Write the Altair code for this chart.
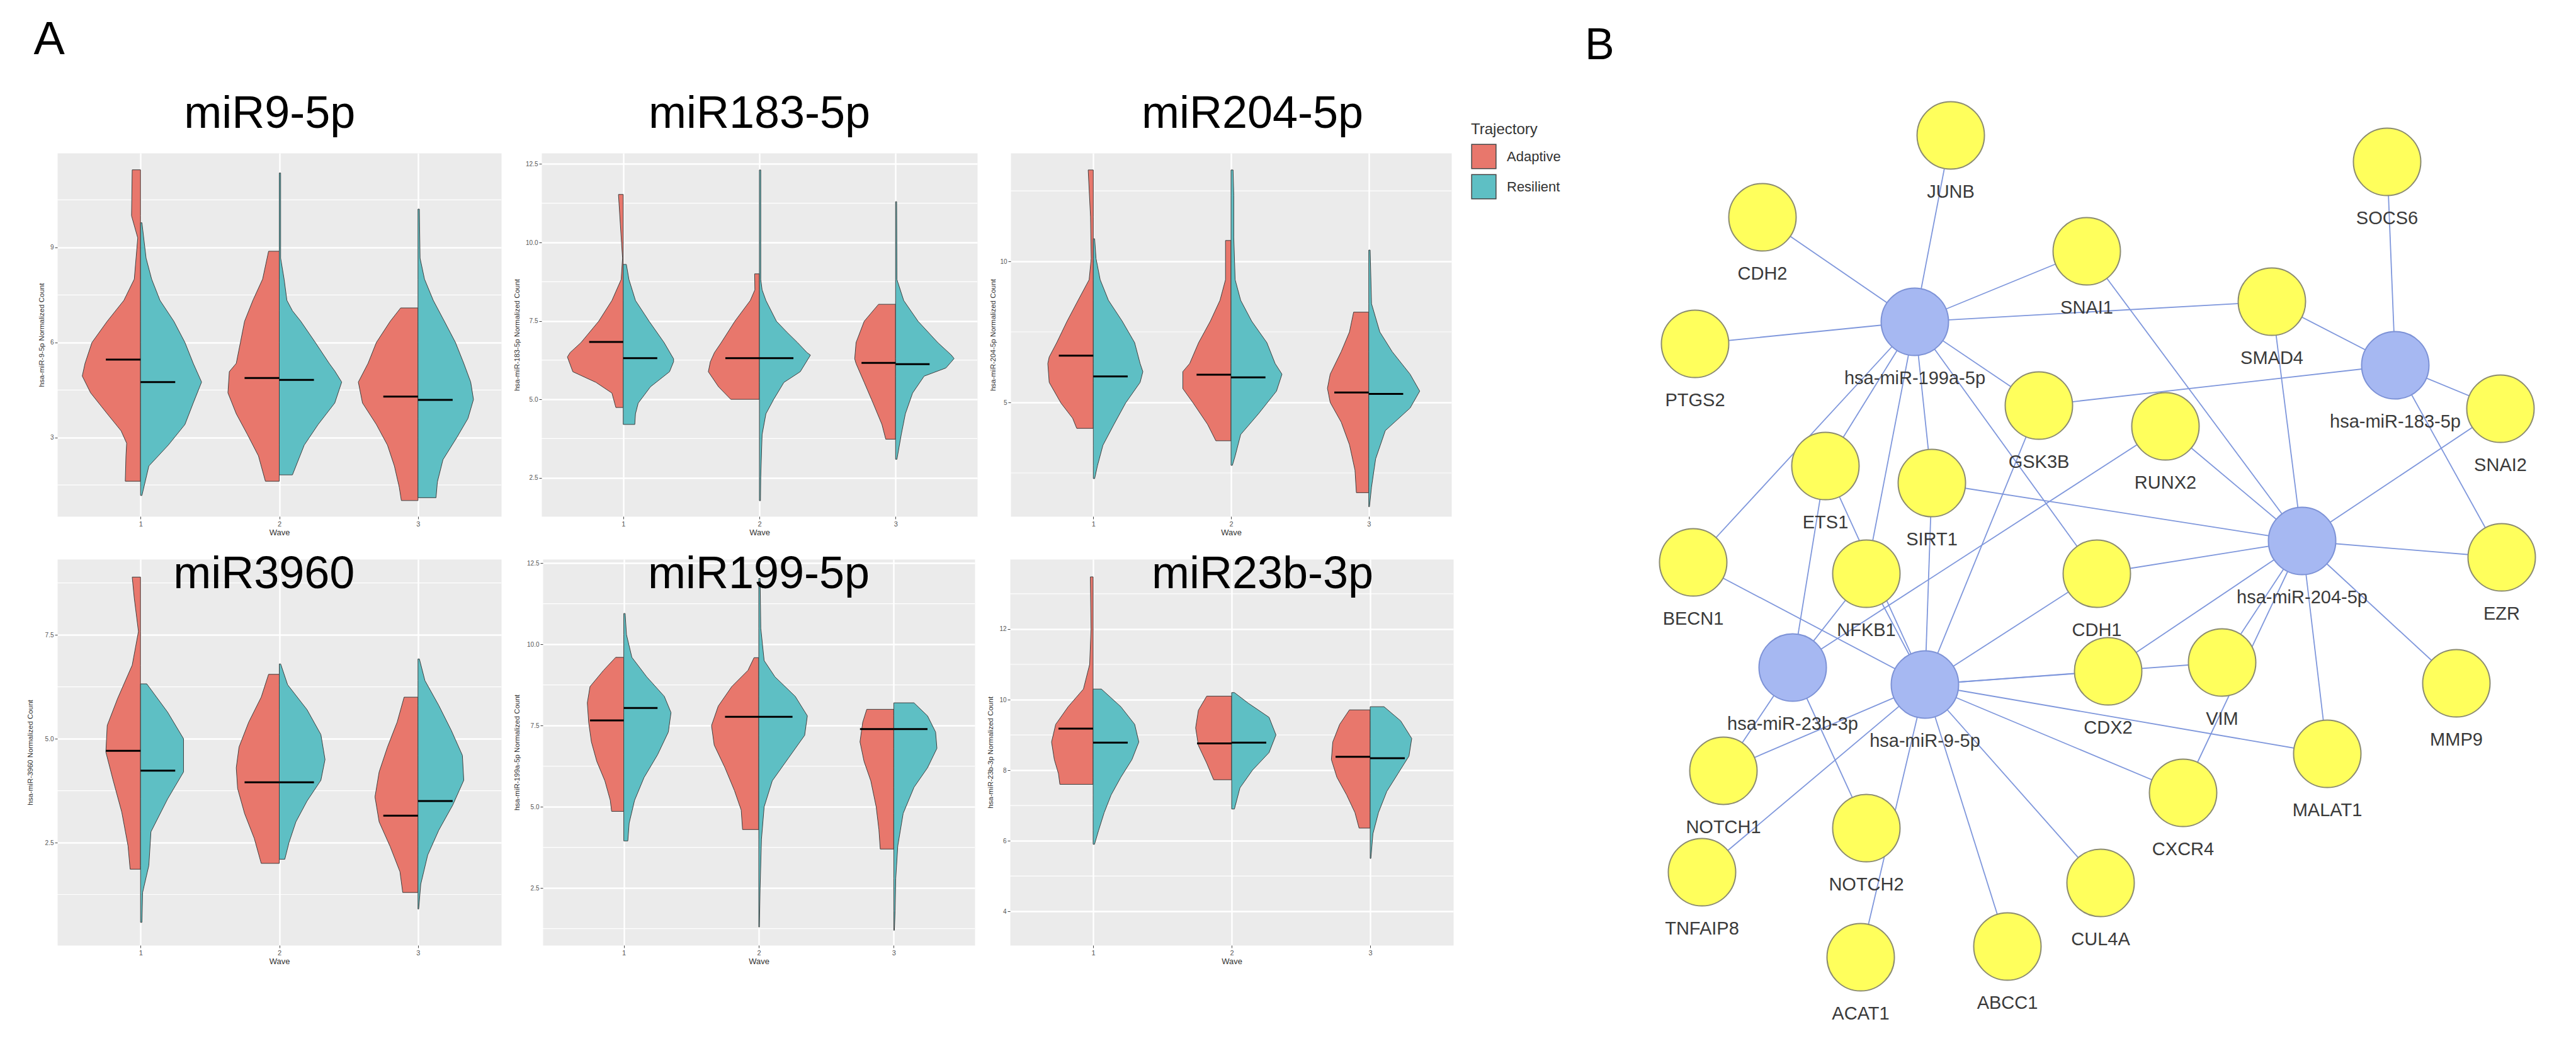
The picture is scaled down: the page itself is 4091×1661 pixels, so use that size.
import altair as alt
import pandas as pd

ADAPT, RESIL = "Adaptive", "Resilient"
RED, TEAL = "#E8776C", "#5EBFC4"
WAVES = [1, 2, 3]

# ---------------- Panel A data ----------------
# half-violin outlines, top to bottom: (normalized count, half width in wave units)
V9_1A = [(11.45,0.06),(10.0,0.065),(9.3,0.02),(8.0,0.045),(7.33,0.12),(6.67,0.24),(6.0,0.35),(5.34,0.40),(4.94,0.42),(4.41,0.36),(3.75,0.24),(3.21,0.14),(2.82,0.10),(2.42,0.105),(1.62,0.11)]
V9_1R = [(9.78,0.01),(8.66,0.04),(8.0,0.08),(7.33,0.14),(6.67,0.24),(6.0,0.32),(5.34,0.38),(4.75,0.44),(4.09,0.38),(3.41,0.32),(2.76,0.20),(2.1,0.06),(1.17,0.01)]
V9_2A = [(8.88,0.077),(8.0,0.12),(7.33,0.19),(6.67,0.25),(6.0,0.28),(5.34,0.31),(5.08,0.36),(4.41,0.37),(3.75,0.31),(3.1,0.23),(2.42,0.15),(1.62,0.10)]
V9_2R = [(11.35,0.01),(8.66,0.01),(8.0,0.035),(7.33,0.055),(7.0,0.095),(6.67,0.155),(6.0,0.26),(5.34,0.36),(5.1,0.40),(4.75,0.45),(4.09,0.40),(3.41,0.28),(2.76,0.18),(1.82,0.095)]
V9_3A = [(7.09,0.125),(6.67,0.20),(6.0,0.30),(5.34,0.36),(4.75,0.43),(4.09,0.40),(3.41,0.30),(2.76,0.22),(2.1,0.17),(1.43,0.135),(1.01,0.12)]
V9_3R = [(10.21,0.01),(8.66,0.015),(8.0,0.047),(7.33,0.11),(6.67,0.19),(6.0,0.27),(5.34,0.33),(4.75,0.38),(4.2,0.40),(3.6,0.36),(3.0,0.28),(2.3,0.18),(1.6,0.14),(1.1,0.13)]
MED9_A = [5.46, 4.88, 4.29]
MED9_R = [4.75, 4.82, 4.19]

V183_1A = [(11.53,0.035),(10.16,0.015),(9.5,0.005),(8.82,0.015),(8.15,0.083),(7.49,0.18),(6.81,0.31),(6.49,0.39),(6.35,0.41),(5.88,0.37),(5.54,0.20),(5.2,0.083),(4.74,0.054)]
V183_1R = [(9.3,0.023),(8.82,0.042),(8.15,0.09),(7.49,0.19),(6.81,0.30),(6.29,0.37),(6.2,0.37),(5.88,0.34),(5.4,0.20),(4.88,0.11),(4.54,0.09),(4.2,0.085)]
V183_2A = [(9.0,0.035),(8.49,0.033),(8.15,0.067),(7.49,0.18),(6.81,0.28),(6.49,0.33),(6.2,0.36),(5.88,0.375),(5.4,0.30),(5.0,0.21)]
V183_2R = [(12.31,0.01),(8.82,0.01),(8.49,0.02),(8.15,0.048),(7.49,0.125),(7.15,0.20),(6.81,0.28),(6.49,0.35),(6.41,0.375),(5.88,0.30),(5.54,0.18),(5.0,0.105),(4.54,0.048),(3.88,0.02),(2.53,0.01),(1.77,0.008)]
V183_3A = [(8.03,0.125),(7.49,0.23),(6.81,0.29),(6.29,0.30),(6.14,0.29),(5.54,0.23),(4.88,0.165),(4.2,0.10),(3.73,0.072)]
V183_3R = [(11.3,0.008),(8.82,0.01),(8.15,0.06),(7.49,0.165),(6.81,0.31),(6.41,0.41),(6.3,0.43),(6.0,0.37),(5.74,0.21),(5.2,0.125),(4.54,0.072),(3.88,0.042),(3.09,0.01)]
MED183_A = [6.83, 6.31, 6.16]
MED183_R = [6.31, 6.31, 6.12]

V204_1A = [(13.24,0.037),(11.58,0.02),(10.1,0.015),(9.35,0.03),(8.62,0.11),(7.88,0.19),(7.12,0.265),(6.61,0.32),(6.38,0.33),(5.71,0.32),(4.98,0.235),(4.44,0.15),(4.08,0.12)]
V204_1R = [(10.8,0.01),(10.1,0.02),(9.35,0.05),(8.62,0.11),(7.88,0.21),(7.12,0.30),(6.38,0.34),(6.09,0.36),(5.71,0.34),(4.98,0.235),(4.22,0.15),(3.48,0.07),(2.75,0.03),(2.3,0.01)]
V204_2A = [(10.74,0.04),(9.35,0.04),(8.62,0.08),(7.88,0.15),(7.12,0.235),(6.38,0.30),(6.09,0.35),(5.49,0.35),(4.98,0.275),(4.22,0.17),(3.64,0.11)]
V204_2R = [(13.24,0.015),(12.34,0.02),(10.85,0.02),(9.35,0.03),(8.62,0.07),(7.88,0.15),(7.12,0.26),(6.38,0.32),(6.0,0.37),(5.4,0.33),(4.6,0.20),(3.86,0.07),(3.1,0.03),(2.77,0.01)]
V204_3A = [(8.2,0.11),(7.5,0.14),(6.8,0.20),(6.0,0.28),(5.5,0.30),(5.0,0.28),(4.3,0.20),(3.5,0.14),(2.6,0.10),(1.8,0.09)]
V204_3R = [(10.4,0.01),(8.5,0.02),(7.5,0.08),(6.8,0.17),(6.0,0.30),(5.4,0.37),(4.8,0.30),(4.0,0.12),(3.0,0.05),(2.0,0.02),(1.3,0.005)]
MED204_A = [6.66, 5.98, 5.35]
MED204_R = [5.92, 5.89, 5.30]

V3960_1A = [(8.89,0.06),(8.38,0.045),(7.58,0.015),(6.77,0.06),(5.97,0.165),(5.32,0.24),(4.68,0.25),(4.03,0.20),(3.23,0.135),(2.42,0.09),(1.86,0.075)]
V3960_1R = [(6.32,0.045),(5.64,0.195),(5.0,0.31),(4.2,0.31),(3.55,0.195),(2.76,0.075),(1.95,0.06),(1.3,0.015),(0.58,0.01)]
V3960_2A = [(6.55,0.077),(6.0,0.13),(5.4,0.22),(4.8,0.29),(4.3,0.31),(3.8,0.30),(3.2,0.25),(2.6,0.18),(2.0,0.13)]
V3960_2R = [(6.8,0.01),(6.3,0.06),(5.7,0.20),(5.1,0.30),(4.5,0.33),(4.0,0.30),(3.5,0.20),(3.0,0.12),(2.5,0.07),(2.1,0.04)]
V3960_3A = [(6.0,0.10),(5.4,0.15),(4.8,0.22),(4.2,0.28),(3.6,0.31),(3.0,0.28),(2.4,0.20),(1.8,0.13),(1.3,0.11)]
V3960_3R = [(6.92,0.01),(6.4,0.05),(5.8,0.15),(5.2,0.24),(4.6,0.32),(4.0,0.33),(3.4,0.25),(2.8,0.15),(2.2,0.07),(1.5,0.02),(0.9,0.005)]
MED3960_A = [4.71, 3.95, 3.15]
MED3960_R = [4.23, 3.95, 3.50]

V199_1A = [(9.6,0.06),(9.2,0.15),(8.7,0.25),(8.2,0.27),(7.6,0.26),(7.0,0.24),(6.4,0.20),(5.8,0.14),(5.2,0.10),(4.86,0.09)]
V199_1R = [(10.95,0.01),(10.3,0.02),(9.6,0.06),(9.0,0.17),(8.4,0.30),(7.9,0.35),(7.3,0.33),(6.6,0.25),(5.9,0.15),(5.2,0.08),(4.5,0.04),(3.95,0.03)]
V199_2A = [(9.59,0.035),(9.2,0.08),(8.7,0.20),(8.1,0.30),(7.5,0.35),(6.9,0.33),(6.2,0.25),(5.5,0.18),(4.9,0.13),(4.3,0.12)]
V199_2R = [(12.03,0.01),(10.5,0.015),(9.5,0.04),(9.0,0.12),(8.4,0.27),(7.8,0.36),(7.2,0.34),(6.5,0.22),(5.8,0.10),(5.0,0.04),(4.0,0.02),(2.5,0.01),(1.3,0.005)]
V199_3A = [(8.0,0.20),(7.6,0.23),(7.0,0.25),(6.4,0.22),(5.8,0.17),(5.0,0.13),(4.3,0.11),(3.7,0.10)]
V199_3R = [(8.2,0.15),(7.8,0.25),(7.3,0.31),(6.8,0.32),(6.2,0.25),(5.6,0.15),(4.8,0.07),(3.8,0.03),(2.8,0.015),(1.8,0.01),(1.2,0.005)]
MED199_A = [7.66, 7.77, 7.39]
MED199_R = [8.04, 7.77, 7.39]

V23_1A = [(13.48,0.02),(12.0,0.015),(11.0,0.025),(10.3,0.07),(9.8,0.18),(9.3,0.27),(8.8,0.30),(8.3,0.28),(7.9,0.25),(7.6,0.24)]
V23_1R = [(10.3,0.06),(9.8,0.20),(9.3,0.30),(8.8,0.33),(8.3,0.28),(7.8,0.20),(7.3,0.13),(6.8,0.08),(6.3,0.04),(5.9,0.01)]
V23_2A = [(10.1,0.18),(9.7,0.24),(9.2,0.26),(8.7,0.24),(8.2,0.18),(7.73,0.13)]
V23_2R = [(10.2,0.02),(9.9,0.12),(9.5,0.27),(9.0,0.32),(8.5,0.27),(8.0,0.15),(7.5,0.06),(6.9,0.02)]
V23_3A = [(9.71,0.15),(9.3,0.22),(8.8,0.27),(8.3,0.28),(7.8,0.24),(7.3,0.17),(6.8,0.11),(6.36,0.08)]
V23_3R = [(9.8,0.10),(9.4,0.22),(8.9,0.30),(8.4,0.28),(7.9,0.20),(7.4,0.12),(6.8,0.06),(6.2,0.02),(5.5,0.005)]
MED23_A = [9.18, 8.76, 8.38]
MED23_R = [8.78, 8.78, 8.34]

TICKS9, MINOR9 = [3, 6, 9], [1.5, 4.5, 7.5, 10.5]
TICKS183, MINOR183 = [2.5, 5, 7.5, 10, 12.5], [3.75, 6.25, 8.75, 11.25]
TICKS204, MINOR204 = [5, 10], [2.5, 7.5, 12.5]
TICKS3960, MINOR3960 = [2.5, 5, 7.5], [1.25, 3.75, 6.25, 8.75]
TICKS199, MINOR199 = [2.5, 5, 7.5, 10, 12.5], [1.25, 3.75, 6.25, 8.75, 11.25]
TICKS23, MINOR23 = [4, 6, 8, 10, 12], [5, 7, 9, 11, 13]

# ---------------- Panel B data ----------------
NODE_NAMES = ["JUNB", "CDH2", "SNAI1", "PTGS2", "hsa-miR-199a-5p", "SOCS6", "SMAD4", "hsa-miR-183-5p",
              "GSK3B", "RUNX2", "SNAI2", "ETS1", "SIRT1", "hsa-miR-204-5p", "EZR", "BECN1", "NFKB1",
              "CDH1", "hsa-miR-23b-3p", "hsa-miR-9-5p", "CDX2", "VIM", "MMP9", "MALAT1", "NOTCH1",
              "CXCR4", "NOTCH2", "TNFAIP8", "CUL4A", "ACAT1", "ABCC1"]
NODE_X = [58.1, 28.2, 79.7, 17.5, 52.4, 127.4, 109.1, 128.7, 72.1, 92.2, 145.4, 38.2, 55.1, 113.9, 145.6,
          17.2, 44.7, 81.3, 33.0, 54.0, 83.1, 101.2, 138.4, 117.9, 22.0, 95.0, 44.7, 18.6, 81.9, 43.8, 67.1]
NODE_Y = [10.0, 23.0, 28.4, 43.1, 39.6, 14.2, 36.4, 46.5, 52.9, 56.2, 53.4, 62.5, 65.2, 74.4, 77.0,
          77.8, 79.6, 79.6, 94.5, 97.2, 95.1, 93.7, 97.0, 108.2, 110.9, 114.4, 120.0, 127.0, 128.7, 140.5, 138.8]
EDGES = {
    "hsa-miR-199a-5p": ["CDH2", "JUNB", "SNAI1", "SMAD4", "PTGS2", "GSK3B", "CDH1", "ETS1", "SIRT1", "NFKB1", "BECN1"],
    "hsa-miR-183-5p": ["SOCS6", "SMAD4", "SNAI2", "GSK3B", "EZR"],
    "hsa-miR-204-5p": ["SNAI2", "SMAD4", "SNAI1", "RUNX2", "SIRT1", "EZR", "CDH1", "CDX2", "VIM", "CXCR4", "MALAT1", "MMP9"],
    "hsa-miR-23b-3p": ["ETS1", "NFKB1", "RUNX2", "NOTCH1", "NOTCH2"],
    "hsa-miR-9-5p": ["NFKB1", "SIRT1", "BECN1", "CDH1", "GSK3B", "CDX2", "VIM", "MALAT1", "CXCR4", "CUL4A",
                     "ABCC1", "ACAT1", "TNFAIP8", "NOTCH1", "ETS1"],
}

FONT = "Liberation Sans"
COLOR_SCALE = alt.Scale(domain=[ADAPT, RESIL], range=[RED, TEAL])


def violin_panel(title, ytitle, profiles, med_a, med_r, ticks, minor, ydom, fmt,
                 width, height, ext, toffset, frame, tdx):
    rows = []
    for i, wave in enumerate(WAVES):
        for grp, prof in ((ADAPT, profiles[0][i]), (RESIL, profiles[1][i])):
            for v, w in prof:
                xl, xr = (wave - w, wave) if grp == ADAPT else (wave, wave + w)
                rows.append({"half": f"{wave}-{grp}", "Trajectory": grp, "val": v, "xl": xl, "xr": xr})
    vdf = pd.DataFrame(rows)
    mrows = []
    for i, wave in enumerate(WAVES):
        mrows.append({"val": med_a[i], "xa": wave - 0.25, "xb": wave})
        mrows.append({"val": med_r[i], "xa": wave, "xb": wave + 0.25})
    mdf = pd.DataFrame(mrows)

    yaxis = alt.Axis(values=ticks, format=fmt, title=ytitle, grid=True, gridColor="white", gridWidth=2.4,
                     domain=False, tickColor="#444", tickSize=4, labelFontSize=10, labelColor="#555",
                     labelPadding=2, titleFontSize=11.5, titleFontWeight="normal", titleColor="#333",
                     titlePadding=6, minExtent=ext, maxExtent=ext)
    yenc = alt.Y("val:Q", scale=alt.Scale(domain=ydom, nice=False, zero=False), axis=yaxis)
    xscale = alt.Scale(domain=[0.4, 3.6], nice=False, zero=False)
    xaxis = alt.Axis(values=WAVES, format="d", title="Wave", grid=True, gridColor="white", gridWidth=2.4,
                     domain=False, tickColor="#444", tickSize=4, labelFontSize=11, labelColor="#555",
                     labelPadding=2, titleFontSize=13, titleFontWeight="normal", titleColor="#333",
                     titlePadding=2, labelAngle=0)

    minor_layer = alt.Chart(pd.DataFrame({"val": minor})).mark_rule(color="white", strokeWidth=1.2).encode(y=yenc)
    area = alt.Chart(vdf).mark_area(orient="horizontal", stroke="#3f3f3f", strokeWidth=1, opacity=1).encode(
        y=yenc,
        x=alt.X("xl:Q", scale=xscale, axis=xaxis),
        x2="xr:Q",
        color=alt.Color("Trajectory:N", scale=COLOR_SCALE, legend=None),
        detail="half:N",
    )
    med = alt.Chart(mdf).mark_rule(color="black", strokeWidth=3).encode(
        y=yenc, x=alt.X("xa:Q", scale=xscale, axis=xaxis), x2="xb:Q")
    return alt.layer(minor_layer, area, med).properties(
        width=width, height=height,
        title=alt.TitleParams(text=title, fontSize=72, font=FONT, fontWeight="normal", color="black",
                              anchor="middle", frame=frame, offset=toffset, baseline="alphabetic", dx=tdx),
        view=alt.ViewBackground(fill="#EBEBEB", stroke="transparent"),
    )


p11 = violin_panel("miR9-5p", "hsa-miR-9-5p Normalized Count", ([V9_1A, V9_2A, V9_3A], [V9_1R, V9_2R, V9_3R]),
                   MED9_A, MED9_R, TICKS9, MINOR9, [0.51, 11.98], "d", 705, 577, 14, -32, "bounds", 0)
p12 = violin_panel("miR183-5p", "hsa-miR-183-5p Normalized Count", ([V183_1A, V183_2A, V183_3A], [V183_1R, V183_2R, V183_3R]),
                   MED183_A, MED183_R, TICKS183, MINOR183, [1.27, 12.85], ".1f", 692, 577, 28, -32, "group", 0)
p13 = violin_panel("miR204-5p", "hsa-miR-204-5p Normalized Count", ([V204_1A, V204_2A, V204_3A], [V204_1R, V204_2R, V204_3R]),
                   MED204_A, MED204_R, TICKS204, MINOR204, [0.96, 13.84], "d", 700, 577, 17, -32, "group", 34)
p21 = violin_panel("miR3960", "hsa-miR-3960 Normalized Count", ([V3960_1A, V3960_2A, V3960_3A], [V3960_1R, V3960_2R, V3960_3R]),
                   MED3960_A, MED3960_R, TICKS3960, MINOR3960, [0.03, 9.32], ".1f", 705, 613, 32, -118, "bounds", 0)
p22 = violin_panel("miR199-5p", "hsa-miR-199a-5p Normalized Count", ([V199_1A, V199_2A, V199_3A], [V199_1R, V199_2R, V199_3R]),
                   MED199_A, MED199_R, TICKS199, MINOR199, [0.74, 12.62], ".1f", 686, 613, 30, -118, "group", 0)
p23 = violin_panel("miR23b-3p", "hsa-miR-23b-3p Normalized Count", ([V23_1A, V23_2A, V23_3A], [V23_1R, V23_2R, V23_3R]),
                   MED23_A, MED23_R, TICKS23, MINOR23, [3.04, 13.98], "d", 704, 613, 20, -118, "group", 49)

legend_cell = alt.Chart(pd.DataFrame({"Trajectory": [ADAPT, RESIL]})).mark_square(size=0, opacity=1).encode(
    color=alt.Color("Trajectory:N", scale=COLOR_SCALE,
                    legend=alt.Legend(title="Trajectory", orient="none", legendX=12, legendY=-49, titleFontSize=24,
                                      titleFontWeight="normal", titleColor="#333", labelFontSize=22,
                                      labelColor="#333", symbolType="square", symbolSize=1500,
                                      symbolStrokeColor="#444", symbolStrokeWidth=1.5, symbolOpacity=1,
                                      rowPadding=3, labelOffset=16, titlePadding=10))
).properties(width=1, height=1, view=alt.ViewBackground(stroke="transparent"))

row1 = alt.hconcat(p11, p12, p13, legend_cell, spacing=16).resolve_scale(color="independent")
row2 = alt.hconcat(p21, p22, p23, spacing=16)
block_a = alt.vconcat(row1, row2, spacing=22).properties(
    title=alt.TitleParams(text="A", anchor="start", frame="bounds", fontSize=74, font=FONT, fontWeight="normal",
                          color="black", offset=-15, baseline="alphabetic", dx=12))

# network tables
pos = {n: (x, y) for n, x, y in zip(NODE_NAMES, NODE_X, NODE_Y)}
ndf = pd.DataFrame({"name": NODE_NAMES, "x": NODE_X, "y": NODE_Y,
                    "kind": ["miRNA" if n.startswith("hsa-") else "gene" for n in NODE_NAMES]})
erows = []
for m, targets in EDGES.items():
    for t in targets:
        erows.append({"x": pos[m][0], "y": pos[m][1], "x2": pos[t][0], "y2": pos[t][1]})
edf = pd.DataFrame(erows)

bx = alt.Scale(domain=[0, 155], nice=False, zero=False)
by = alt.Scale(domain=[12.8, 152.2], nice=False, zero=False, reverse=True)
edges = alt.Chart(edf).mark_rule(color="#7F97DC", strokeWidth=1.8).encode(
    x=alt.X("x:Q", scale=bx, axis=None), y=alt.Y("y:Q", scale=by, axis=None), x2="x2:Q", y2="y2:Q")
nodes = alt.Chart(ndf).mark_point(filled=True, shape="circle", size=11449, strokeWidth=2, opacity=1).encode(
    x=alt.X("x:Q", scale=bx, axis=None), y=alt.Y("y:Q", scale=by, axis=None),
    fill=alt.Fill("kind:N", scale=alt.Scale(domain=["gene", "miRNA"], range=["#FFFF5C", "#A6B8F2"]), legend=None),
    stroke=alt.Stroke("kind:N", scale=alt.Scale(domain=["gene", "miRNA"], range=["#8C8C70", "#7D92D6"]), legend=None))
labels = alt.Chart(ndf).mark_text(dy=90, fontSize=29, font=FONT, color="#3A3A3A", baseline="middle").encode(
    x=alt.X("x:Q", scale=bx, axis=None), y=alt.Y("y:Q", scale=by, axis=None), text="name:N")
block_b = alt.layer(edges, nodes, labels).properties(
    width=1550, height=1394,
    title=alt.TitleParams(text="B", anchor="start", frame="group", fontSize=70, font=FONT, fontWeight="normal",
                          color="black", offset=-6, baseline="alphabetic"),
    view=alt.ViewBackground(stroke="transparent"),
)

chart = alt.hconcat(block_a, block_b, spacing=36).properties(
    padding={"left": 33, "top": 18, "right": 5, "bottom": 5}
).configure(font=FONT).configure_view(stroke="transparent")

chart.save("out.html", embed_options={"renderer": "svg", "actions": False})
